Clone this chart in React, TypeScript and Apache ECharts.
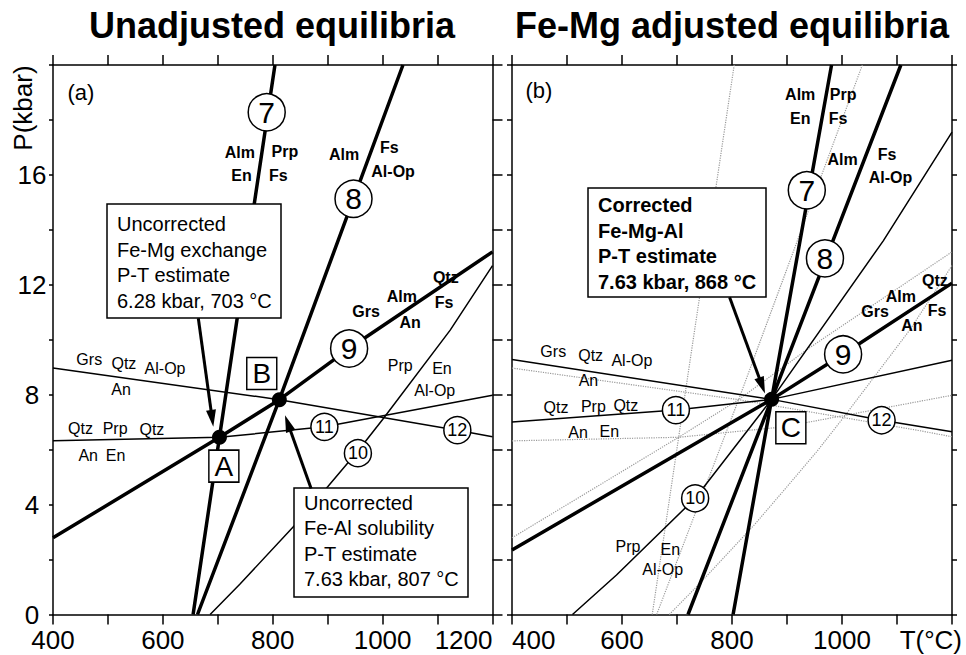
import React, { useEffect, useRef } from 'react';
import * as echarts from 'echarts';

const FONT = "'Liberation Sans', Arial, Helvetica, sans-serif";

// Axes
const T_MIN = 400;
const T_MAX = 1200;
const T_STEP = 100;
const T_LABEL_STEP = 200;
const P_MIN = 0;
const P_MAX = 20;
const P_STEP = 2;
const P_LABEL_STEP = 4;

// Panel (a): unadjusted equilibria, points [T (°C), P (kbar)]
const eq7A = [[655, 0], [703, 6.45], [804, 20]];
const eq8A = [[663, 0], [812, 7.82], [1037, 20]];
const eq9A = [[400, 2.79], [703, 6.45], [812, 7.82], [939, 9.68], [1200, 13.2]];
const eq10A = [[686, 0], [740, 1.1], [840, 3.25], [900, 4.65], [955, 5.95], [1000, 7.1], [1123, 10.35], [1200, 12.7]];
const eq11A = [[400, 6.32], [703, 6.45], [894, 6.83], [1200, 7.98]];
const eq12A = [[400, 8.97], [812, 7.82], [1136, 6.71], [1200, 6.47]];

// Panel (b): Fe-Mg adjusted equilibria
const eq7B = [[802, 0], [872, 7.83], [981, 20]];
const eq8B = [[720, 0], [872, 7.83], [1107, 20]];
const eq9B = [[400, 2.35], [872, 7.83], [1002, 9.47], [1200, 12.06]];
const eq10B = [[510, 0], [590, 1.44], [733, 4.23], [872, 7.83], [1075, 13.6], [1200, 17.56]];
const eq11B = [[400, 7.01], [698, 7.44], [872, 7.83], [1200, 9.25]];
const eq12B = [[400, 9.28], [872, 7.83], [1072, 7.07], [1200, 6.65]];

// P-T estimates
const pointA = [703, 6.45];
const pointB = [812, 7.82];
const pointC = [872, 7.83];

// Letter tags
const tagsA = [['A', 711, 5.4], ['B', 780, 8.77]];
const tagsB = [['C', 907, 6.8]];

// Reaction numbers
const circlesA = [['7', 789, 18.28], ['8', 947, 15.13], ['9', 939, 9.68], ['10', 955, 5.87], ['11', 894, 6.83], ['12', 1136, 6.71]];
const circlesB = [['7', 936, 15.44], ['8', 969, 12.96], ['9', 1002, 9.47], ['10', 733, 4.23], ['11', 698, 7.44], ['12', 1072, 7.07]];

// Phase labels
const boldLabelsA = [
  ['Alm', 740, 16.81], ['En', 743, 15.98], ['Prp', 822, 16.85], ['Fs', 810, 15.98],
  ['Alm', 930, 16.73], ['Fs', 1012, 17.01], ['Al-Op', 1019, 16.13],
  ['Qtz', 1115, 12.27], ['Alm', 1035, 11.58], ['Grs', 970, 11.04], ['Fs', 1112, 11.36], ['An', 1050, 10.64],
];
const plainLabelsA = [
  ['Grs', 466, 9.29], ['Qtz', 529, 9.13], ['Al-Op', 604, 8.95], ['An', 524, 8.2],
  ['Qtz', 450, 6.77], ['Prp', 513, 6.77], ['Qtz', 580, 6.75], ['An', 464, 5.8], ['En', 514, 5.8],
  ['Prp', 1032, 9.07], ['En', 1108, 8.95], ['Al-Op', 1095, 8.15],
];
const boldLabelsB = [
  ['Alm', 924, 18.92], ['Prp', 1002, 18.92], ['En', 924, 18.07], ['Fs', 993, 18.07],
  ['Alm', 1001, 16.56], ['Fs', 1082, 16.75], ['Al-Op', 1088, 15.92],
  ['Qtz', 1169, 12.16], ['Alm', 1107, 11.58], ['Fs', 1173, 11.07], ['Grs', 1060, 11.04], ['An', 1127, 10.53],
];
const plainLabelsB = [
  ['Grs', 475, 9.59], ['Qtz', 543, 9.44], ['Al-Op', 618, 9.23], ['An', 539, 8.5],
  ['Qtz', 480, 7.53], ['Prp', 548, 7.58], ['Qtz', 607, 7.62], ['An', 520, 6.61], ['En', 577, 6.65],
  ['Prp', 611, 2.49], ['En', 688, 2.37], ['Al-Op', 674, 1.62],
];

// Arrows [start, end] in data units
const arrowA = [[664.5, 10.78], [691.8, 6.83]];
const arrowB = [[869.8, 4.59], [822.3, 7.25]];
const arrowC = [[795.6, 11.55], [860, 8.04]];

// Text
const titleA = 'Unadjusted equilibria';
const titleB = 'Fe-Mg adjusted equilibria';
const box1Lines = ['Uncorrected', 'Fe-Mg exchange', 'P-T estimate', '6.28 kbar, 703 °C'];
const box2Lines = ['Uncorrected', 'Fe-Al solubility', 'P-T estimate', '7.63 kbar, 807 °C'];
const boxCLines = ['Corrected', 'Fe-Mg-Al', 'P-T estimate', '7.63 kbar, 868 °C'];

const lineSeries = (data: number[][], idx: number, width: number, kind: 'solid' | 'gray') => ({
  type: 'line',
  xAxisIndex: idx,
  yAxisIndex: idx,
  data,
  showSymbol: false,
  symbol: 'none',
  silent: true,
  clip: true,
  z: kind === 'gray' ? 1 : 2,
  lineStyle: kind === 'gray'
    ? { color: '#9a9a9a', width: 1.2, type: 'dotted' }
    : { color: '#000', width, type: 'solid' },
});

const labelBase = { show: true, position: 'inside', formatter: '{b}', color: '#000', fontFamily: FONT, textBorderWidth: 0, textBorderColor: 'transparent' };

const textSeries = (labels: any[], idx: number, bold: boolean) => ({
  type: 'scatter',
  xAxisIndex: idx,
  yAxisIndex: idx,
  symbolSize: 1,
  silent: true,
  z: 4,
  itemStyle: { color: 'rgba(0,0,0,0)', opacity: 1 },
  label: { ...labelBase, fontSize: 16, fontWeight: bold ? 'bold' : 'normal' },
  data: labels.map(([n, t, p]) => ({ name: n, value: [t, p] })),
});

const circleSeries = (items: any[], idx: number) => ({
  type: 'scatter',
  xAxisIndex: idx,
  yAxisIndex: idx,
  symbol: 'circle',
  silent: true,
  z: 5,
  itemStyle: { color: '#fff', borderColor: '#000', borderWidth: 1.5, opacity: 1 },
  label: { ...labelBase },
  data: items.map(([n, t, p]) => {
    const big = n.length === 1;
    return { name: n, value: [t, p], symbolSize: big ? 37 : 27, label: { fontSize: big ? 30 : 18 } };
  }),
});

const tagSeries = (items: any[], idx: number) => ({
  type: 'scatter',
  xAxisIndex: idx,
  yAxisIndex: idx,
  symbol: 'rect',
  symbolSize: [30, 32],
  silent: true,
  z: 5,
  itemStyle: { color: '#fff', borderColor: '#000', borderWidth: 1.5, opacity: 1 },
  label: { ...labelBase, fontSize: 28 },
  data: items.map(([n, t, p]) => ({ name: n, value: [t, p] })),
});

const dotSeries = (pts: number[][], idx: number) => ({
  type: 'scatter',
  xAxisIndex: idx,
  yAxisIndex: idx,
  symbol: 'circle',
  symbolSize: 15,
  silent: true,
  z: 6,
  itemStyle: { color: '#000', opacity: 1 },
  data: pts,
});

const xAxisDef = (grid: number, pos: 'bottom' | 'top', labels: boolean, hideLast: boolean) => ({
  type: 'value',
  gridIndex: grid,
  position: pos,
  min: T_MIN,
  max: T_MAX,
  interval: T_STEP,
  axisLine: { show: true, onZero: false, lineStyle: { color: '#000', width: 1.5 } },
  axisTick: { show: true, inside: false, length: 10, lineStyle: { color: '#000', width: 1.5 } },
  splitLine: { show: false },
  axisLabel: {
    show: labels,
    margin: 12,
    color: '#000',
    fontSize: 26,
    fontFamily: FONT,
    showMinLabel: true,
    showMaxLabel: true,
    hideOverlap: false,
    alignMinLabel: hideLast ? 'left' : 'center',
    alignMaxLabel: hideLast ? 'center' : 'right',
    formatter: (v: number) => (v % T_LABEL_STEP === 0 && !(hideLast && v === T_MAX) ? String(v) : ''),
  },
});

const yAxisDef = (grid: number, pos: 'left' | 'right', labels: boolean, tickLen: number) => ({
  type: 'value',
  gridIndex: grid,
  position: pos,
  min: P_MIN,
  max: P_MAX,
  interval: P_STEP,
  axisLine: { show: true, onZero: false, lineStyle: { color: '#000', width: 1.5 } },
  axisTick: { show: true, inside: false, length: tickLen, lineStyle: { color: '#000', width: 1.5 } },
  splitLine: { show: false },
  axisLabel: {
    show: labels,
    margin: 21,
    align: 'center',
    color: '#000',
    fontSize: 26,
    fontFamily: FONT,
    formatter: (v: number) => (v % P_LABEL_STEP === 0 && v < P_MAX ? String(v) : ''),
  },
});

const boxGraphic = (x: number, y: number, w: number, h: number, lines: string[], bold: boolean, textTop: number) => ({
  type: 'group',
  z: 50,
  children: [
    { type: 'rect', z: 50, shape: { x, y, width: w, height: h }, style: { fill: '#fff', stroke: '#000', lineWidth: 1.5 } },
    {
      type: 'text', z: 51,
      style: {
        text: lines.join('\n'), x: x + 10, y: textTop, fill: '#000',
        fontSize: 20, fontWeight: bold ? 'bold' : 'normal', fontFamily: FONT,
        lineHeight: 25.5, align: 'left', verticalAlign: 'top',
      },
    },
  ],
});

export default function App() {
  const ref = useRef<HTMLDivElement>(null);
  useEffect(() => {
    if (!ref.current) return;
    const chart = echarts.init(ref.current, undefined, { renderer: 'svg' });
    const staticGraphics: any[] = [
      { type: 'text', z: 60, style: { text: titleA, x: 272, y: 25, fill: '#000', fontSize: 36, fontWeight: 'bold', fontFamily: FONT, align: 'center', verticalAlign: 'middle' } },
      { type: 'text', z: 60, style: { text: titleB, x: 732, y: 25, fill: '#000', fontSize: 36, fontWeight: 'bold', fontFamily: FONT, align: 'center', verticalAlign: 'middle' } },
      { type: 'text', z: 60, x: 23, y: 108, rotation: Math.PI / 2, style: { text: 'P(kbar)', x: 0, y: 0, fill: '#000', fontSize: 26, fontFamily: FONT, align: 'center', verticalAlign: 'middle' } },
      { type: 'text', z: 60, style: { text: 'T(°C)', x: 962, y: 640, fill: '#000', fontSize: 26, fontFamily: FONT, align: 'right', verticalAlign: 'middle' } },
      { type: 'text', z: 60, style: { text: '(a)', x: 81, y: 92, fill: '#000', fontSize: 22, fontFamily: FONT, align: 'center', verticalAlign: 'middle' } },
      { type: 'text', z: 60, style: { text: '(b)', x: 539, y: 90, fill: '#000', fontSize: 22, fontFamily: FONT, align: 'center', verticalAlign: 'middle' } },
      boxGraphic(107, 204, 174, 114, box1Lines, false, 211.5),
      boxGraphic(294, 488, 174, 109, box2Lines, false, 490),
      boxGraphic(588, 188, 178, 109, boxCLines, true, 192.5),
    ];
    const option: any = {
      animation: false,
      backgroundColor: '#fff',
      textStyle: { fontFamily: FONT },
      grid: [
        { left: 53, top: 65, width: 439.5, height: 549.5 },
        { left: 512, top: 65, width: 440, height: 549.5 },
      ],
      xAxis: [
        xAxisDef(0, 'bottom', true, false),
        xAxisDef(0, 'top', false, false),
        xAxisDef(1, 'bottom', true, true),
        xAxisDef(1, 'top', false, false),
      ],
      yAxis: [
        yAxisDef(0, 'left', true, 4),
        yAxisDef(0, 'right', false, 10),
        yAxisDef(1, 'left', false, 5),
        yAxisDef(1, 'right', false, 5),
      ],
      series: [
        // panel a (series 0..5)
        lineSeries(eq7A, 0, 3.5, 'solid'),
        lineSeries(eq8A, 0, 3.5, 'solid'),
        lineSeries(eq9A, 0, 3.5, 'solid'),
        lineSeries(eq10A, 0, 1.5, 'solid'),
        lineSeries(eq11A, 0, 1.5, 'solid'),
        lineSeries(eq12A, 0, 1.5, 'solid'),
        // panel b: unadjusted copies (series 6..11)
        lineSeries(eq7A, 2, 1, 'gray'),
        lineSeries(eq8A, 2, 1, 'gray'),
        lineSeries(eq9A, 2, 1, 'gray'),
        lineSeries(eq10A, 2, 1, 'gray'),
        lineSeries(eq11A, 2, 1, 'gray'),
        lineSeries(eq12A, 2, 1, 'gray'),
        // panel b: adjusted
        lineSeries(eq7B, 2, 3.5, 'solid'),
        lineSeries(eq8B, 2, 3.5, 'solid'),
        lineSeries(eq9B, 2, 3.5, 'solid'),
        lineSeries(eq10B, 2, 1.5, 'solid'),
        lineSeries(eq11B, 2, 1.5, 'solid'),
        lineSeries(eq12B, 2, 1.5, 'solid'),
        textSeries(boldLabelsA, 0, true),
        textSeries(plainLabelsA, 0, false),
        textSeries(boldLabelsB, 2, true),
        textSeries(plainLabelsB, 2, false),
        circleSeries(circlesA, 0),
        circleSeries(circlesB, 2),
        tagSeries(tagsA, 0),
        tagSeries(tagsB, 2),
        dotSeries([pointA, pointB], 0),
        dotSeries([pointC], 2),
      ],
      graphic: staticGraphics,
    };
    chart.setOption(option);

    // arrows, positioned through the panels' own scales
    const arrowSpecs: [number[][], number][] = [[arrowA, 0], [arrowB, 0], [arrowC, 6]];
    const arrowGraphics: any[] = [];
    arrowSpecs.forEach(([arrow, seriesIndex]) => {
      const s = chart.convertToPixel({ seriesIndex }, arrow[0]) as number[];
      const e = chart.convertToPixel({ seriesIndex }, arrow[1]) as number[];
      const dx = e[0] - s[0];
      const dy = e[1] - s[1];
      const len = Math.hypot(dx, dy) || 1;
      const ux = dx / len;
      const uy = dy / len;
      const hl = 17;
      const hw = 5;
      const bx = e[0] - ux * hl;
      const by = e[1] - uy * hl;
      arrowGraphics.push({
        type: 'line', z: 55,
        shape: { x1: s[0], y1: s[1], x2: bx + ux * 2, y2: by + uy * 2 },
        style: { stroke: '#000', lineWidth: 3 },
      });
      arrowGraphics.push({
        type: 'polygon', z: 55,
        shape: { points: [[e[0], e[1]], [bx - uy * hw, by + ux * hw], [bx + uy * hw, by - ux * hw]] },
        style: { fill: '#000' },
      });
    });
    chart.setOption({ graphic: [...staticGraphics, ...arrowGraphics] });
    return () => chart.dispose();
  }, []);
  return <div ref={ref} style={{ position: 'fixed', left: 0, top: 0, width: 966, height: 655, background: '#fff' }} />;
}
